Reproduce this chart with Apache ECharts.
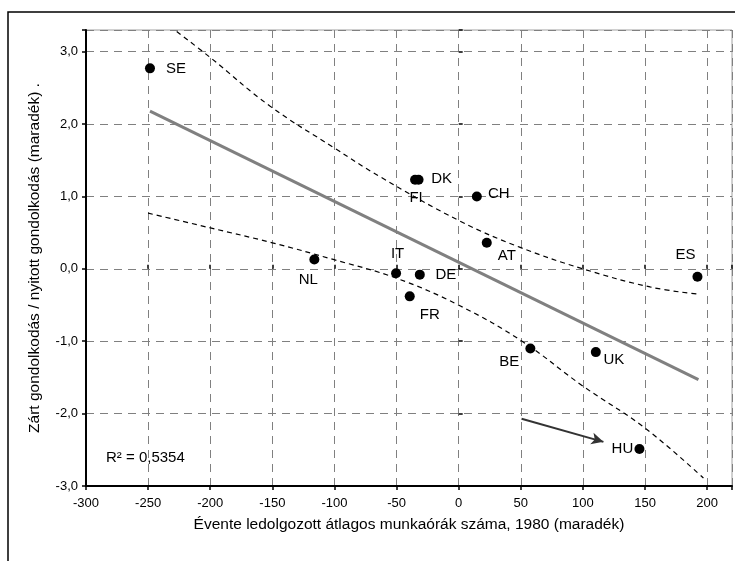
<!DOCTYPE html>
<html>
<head>
<meta charset="utf-8">
<script src="https://cdn.jsdelivr.net/npm/echarts@6/dist/echarts.min.js"></script>
<style>
html,body{margin:0;padding:0;background:#fff;}
#c{width:735px;height:561px;}
</style>
</head>
<body>
<div id="c"></div>
<script>
// ---- data ----
const countries = ['SE','DK','FI','CH','AT','NL','IT','DE','FR','ES','BE','UK','HU'];
const hoursResid = [-248.5,-32.3,-35.1,14.6,22.6,-116.2,-50.4,-31.3,-39.4,192.2,57.7,110.4,145.5];
const thinkResid = [2.77,1.23,1.23,1.0,0.36,0.13,-0.06,-0.08,-0.38,-0.11,-1.10,-1.15,-2.49];

const fitX = [-248.5, 193];
const fitY = [2.18, -1.53];

const upperX = [-227,-200,-152,-101,-63,1,49,100,154,193];
const upperY = [3.28,2.92,2.25,1.68,1.27,0.66,0.30,0.0,-0.25,-0.35];

const lowerX = [-250,-201,-150,-101,-50,1,51,100,150,197];
const lowerY = [0.77,0.57,0.36,0.13,-0.13,-0.51,-1.0,-1.62,-2.20,-2.89];

const arrowFrom = [50.6,-2.07];
const arrowTo = [116.5,-2.39];

const xTicks = {min:-300, max:220, interval:50};
const yTicks = {min:-3, max:3.3, interval:1};

const r2Text = 'R² = 0,5354';
const xTitle = 'Évente ledolgozott átlagos munkaórák száma, 1980 (maradék)';
const yTitle = 'Zárt gondolkodás / nyitott gondolkodás (maradék) .';

// label placement (style)
const labelOffset = {
  SE:[26,0], DK:[23,-1], FI:[1,18], CH:[22,-3], AT:[20,13], NL:[-6,20],
  IT:[1.5,-19], DE:[26,0], FR:[20,18], ES:[-12,-22], BE:[-21,13], UK:[18,8], HU:[-17,0]
};

const FONT = '"Liberation Sans", Arial, sans-serif';
const zip = (a,b) => a.map((v,i)=>[v,b[i]]);

const pts = countries.map((c,i)=>({
  name:c, value:[hoursResid[i], thinkResid[i]],
  label:{offset:labelOffset[c]}
}));

const chart = echarts.init(document.getElementById('c'), null, {renderer:'canvas'});

const gridLine = {show:true, lineStyle:{color:'#808080', type:[8,6], width:1}};

chart.setOption({
  animation:false,
  backgroundColor:'#fff',
  textStyle:{fontFamily:FONT},
  graphic:[
    {type:'rect', shape:{x:8,y:12,width:900,height:700}, style:{fill:'none', stroke:'#000', lineWidth:1.5}, z:-10},
    {type:'text', left:106, top:450, style:{text:r2Text, fill:'#000', font:'15px '+FONT}}
  ],
  grid:{left:86, top:30, right:3, bottom:75, show:true, borderColor:'#a0a0a0', borderWidth:1},
  xAxis:[{
    type:'value', min:xTicks.min, max:xTicks.max, interval:xTicks.interval,
    position:'bottom',
    name:xTitle, nameLocation:'middle', nameGap:31,
    nameTextStyle:{color:'#000', fontSize:15.5, fontFamily:FONT},
    axisLine:{show:true, onZero:false, lineStyle:{color:'#000', width:2}},
    axisTick:{show:true, inside:false, length:4, lineStyle:{color:'#000', width:1.5}},
    axisLabel:{color:'#000', fontSize:13, fontFamily:FONT, margin:11,
      formatter:v => (v % 50 === 0 ? String(v) : '')},
    splitLine:gridLine
  },{
    type:'value', min:xTicks.min, max:xTicks.max, interval:xTicks.interval,
    position:'bottom',
    axisLine:{show:false},
    axisTick:{show:true, inside:true, length:4, lineStyle:{color:'#000', width:1.5}},
    axisLabel:{show:false}, splitLine:{show:false}
  }],
  yAxis:[{
    type:'value', min:yTicks.min, max:yTicks.max, interval:yTicks.interval,
    position:'left',
    name:yTitle, nameLocation:'middle', nameGap:43,
    nameTextStyle:{color:'#000', fontSize:15.5, fontFamily:FONT},
    axisLine:{show:true, onZero:false, lineStyle:{color:'#000', width:2}},
    axisTick:{show:true, inside:false, length:4, lineStyle:{color:'#000', width:1.5}},
    axisLabel:{color:'#000', fontSize:13, fontFamily:FONT, margin:8,
      formatter:v => (Math.abs(v - Math.round(v)) < 1e-9 ? v.toFixed(1).replace('.', ',') : '')},
    splitLine:gridLine
  },{
    type:'value', min:yTicks.min, max:yTicks.max, interval:yTicks.interval,
    position:'left',
    axisLine:{show:false},
    axisTick:{show:true, inside:true, length:4, lineStyle:{color:'#000', width:1.5}},
    axisLabel:{show:false}, splitLine:{show:false}
  }],
  series:[
    {
      type:'line', data:zip(upperX, upperY), smooth:0.4, symbol:'none',
      lineStyle:{color:'#000', width:1.2, type:[5,4]}, z:3
    },
    {
      type:'line', data:zip(lowerX, lowerY), smooth:0.4, symbol:'none',
      lineStyle:{color:'#000', width:1.2, type:[5,4]}, z:3
    },
    {
      type:'line', data:zip(fitX, fitY), symbol:'none',
      lineStyle:{color:'#808080', width:3}, z:4,
      markLine:{
        silent:true, symbol:['none','arrow'], symbolSize:[9,12],
        label:{show:false},
        lineStyle:{color:'#333', width:2, type:'solid'},
        data:[[{coord:arrowFrom},{coord:arrowTo}]]
      }
    },
    {
      type:'scatter', data:pts, symbol:'circle', symbolSize:10,
      itemStyle:{color:'#000', opacity:1}, z:5,
      label:{show:true, position:'inside', align:'center', verticalAlign:'middle',
        formatter:'{b}', color:'#000', fontSize:15, fontFamily:FONT}
    }
  ]
});
</script>
</body>
</html>
